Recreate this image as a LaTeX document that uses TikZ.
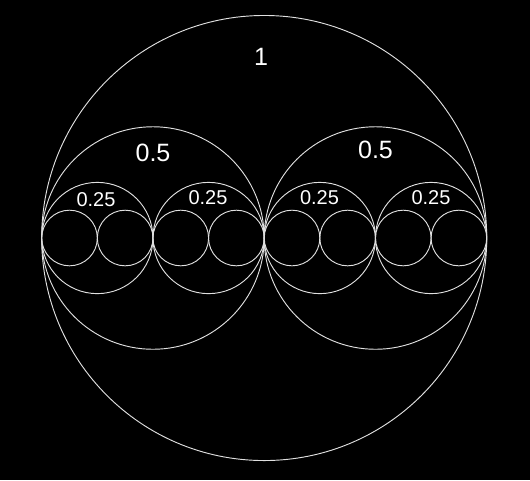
\documentclass[tikz,border=0pt]{standalone}
\usepackage{fontspec}
\setmainfont{Liberation Sans}
\usetikzlibrary{calc}
\begin{document}
\begin{tikzpicture}[x=0.75pt,y=-0.75pt,
  ring/.style={draw=white!88!black,line width=0.7pt},
  big/.style={text=white,inner sep=0pt,font=\fontsize{18.8}{20}\selectfont},
  small/.style={text=white,inner sep=0pt,font=\fontsize{15}{17}\selectfont}]
\fill[black] (0,0) rectangle (530,480);
\useasboundingbox (0,0) rectangle (530,480);
\coordinate (c) at (264.2,238);
% big circle
\draw[ring] (c) circle[radius=166.9pt];
% half circles
\foreach \i in {-1,1}{
  \draw[ring] ($(c)+(\i*111.25,0)$) circle[radius=83.44pt];
}
\foreach \i in {-3,-1,1,3}{
  \draw[ring] ($(c)+(\i*55.625,0)$) circle[radius=41.72pt];
}
\foreach \i in {-7,-5,-3,-1,1,3,5,7}{
  \draw[ring] ($(c)+(\i*27.8125,0)$) circle[radius=20.86pt];
}
\node[big] (l1) at (261,57.3) {1};
\node[big] (h1) at (153,152.5) {0.5};
\node[big] (h2) at (375.5,150) {0.5};
\node[small] (q1) at (96,199.3) {0.25};
\node[small] (q2) at (208,197.5) {0.25};
\node[small] (q3) at (319.5,197.5) {0.25};
\node[small] (q4) at (431,197.5) {0.25};
\end{tikzpicture}
\end{document}
